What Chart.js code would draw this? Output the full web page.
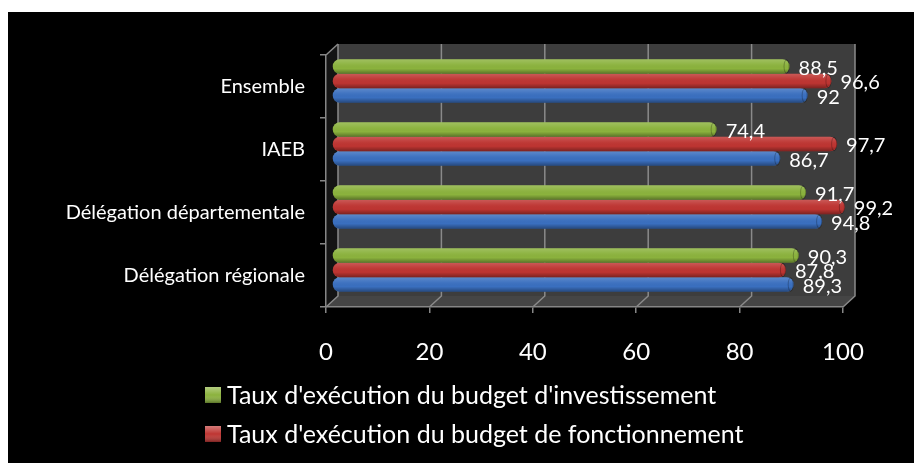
<!DOCTYPE html>
<html lang="fr">
<head>
<meta charset="utf-8">
<title>Taux d'exécution du budget</title>
<script src="https://cdn.jsdelivr.net/npm/chart.js@4"></script>
<style>
  html, body { margin: 0; padding: 0; background: #fff; }
  #wrap { position: absolute; left: 8px; top: 12px; width: 906px; height: 451px; background: #000; }
</style>
</head>
<body>
<div id="wrap"><canvas id="budgetChart" width="906" height="451"></canvas></div>
<script>
const categories = ['Ensemble', 'IAEB', 'Délégation départementale', 'Délégation régionale'];
const investissement = [88.5, 74.4, 91.7, 90.3];
const fonctionnement = [96.6, 97.7, 99.2, 87.8];
const budgetGlobal = [92, 86.7, 94.8, 89.3];
const xTicks = [0, 20, 40, 60, 80, 100];

const seriesNames = [
    "Taux d'exécution du budget d'investissement",
    "Taux d'exécution du budget de fonctionnement",
    "Taux d'exécution du budget global"
];
const seriesColors = ['#8bb23d', '#be3532', '#3a6fbf'];

// depth of the 3D box, bars sit half way in
const DX = 12, DY = -11;
const FONT = 'Lato';
const AXIS_GREY = '#868686';

function fmt(v) {
    return String(v).replace('.', ',');
}

// back wall, floor and the grid lines painted on them
const box3d = {
    id: 'box3d',
    beforeDraw(chart) {
        const ctx = chart.ctx;
        const { left, right, top, bottom } = chart.chartArea;
        const x = chart.scales.x;
        ctx.save();
        ctx.fillStyle = '#3d3d3d';
        ctx.fillRect(left + DX, top + DY, right - left, bottom - top);

        ctx.fillStyle = '#141414';
        ctx.beginPath();
        ctx.moveTo(left, top);
        ctx.lineTo(left + DX, top + DY);
        ctx.lineTo(left + DX, bottom + DY);
        ctx.lineTo(left, bottom);
        ctx.closePath();
        ctx.fill();

        ctx.fillStyle = '#454545';
        ctx.beginPath();
        ctx.moveTo(left, bottom);
        ctx.lineTo(right, bottom);
        ctx.lineTo(right + DX, bottom + DY);
        ctx.lineTo(left + DX, bottom + DY);
        ctx.closePath();
        ctx.fill();

        ctx.strokeStyle = '#8a8a8a';
        ctx.lineWidth = 1.5;
        xTicks.forEach(v => {
            const px = x.getPixelForValue(v);
            ctx.beginPath();
            ctx.moveTo(px + DX, top + DY);
            ctx.lineTo(px + DX, bottom + DY);
            ctx.lineTo(px, bottom);
            ctx.stroke();
        });
        ctx.beginPath();
        ctx.moveTo(left, top);
        ctx.lineTo(left + DX, top + DY);
        ctx.stroke();
        ctx.restore();
    }
};

// shift bars into the box and give them a cylinder look
const cylinders = {
    id: 'cylinders',
    beforeDatasetsDraw(chart) {
        chart.ctx.save();
        chart.ctx.translate(DX / 2, DY / 2);
    },
    afterDatasetsDraw(chart) {
        const ctx = chart.ctx;
        chart.data.datasets.forEach((ds, i) => {
            chart.getDatasetMeta(i).data.forEach((bar, j) => {
                const p = bar.getProps(['x', 'y', 'base', 'height'], true);
                const h = p.height, t = p.y - h / 2;
                const g = ctx.createLinearGradient(0, t, 0, t + h);
                g.addColorStop(0, 'rgba(255,255,255,0.18)');
                g.addColorStop(0.35, 'rgba(255,255,255,0.04)');
                g.addColorStop(0.65, 'rgba(0,0,0,0)');
                g.addColorStop(1, 'rgba(0,0,0,0.35)');
                ctx.fillStyle = g;
                ctx.beginPath();
                ctx.roundRect(p.base, t, p.x - p.base, h, h / 2);
                ctx.fill();
                // end cap
                ctx.strokeStyle = 'rgba(0,0,0,0.25)';
                ctx.lineWidth = 1;
                ctx.beginPath();
                ctx.ellipse(p.x - 3, p.y, 2.5, h / 2 - 0.5, 0, 0, Math.PI * 2);
                ctx.stroke();

                // value label
                ctx.fillStyle = '#fff';
                ctx.font = '20px ' + FONT;
                ctx.textAlign = 'left';
                ctx.textBaseline = 'middle';
                ctx.fillText(fmt(ds.data[j]), p.x + 9, p.y + 2);
            });
        });
        ctx.restore();
    }
};

// legend rows aligned on the left, only the first two series
const leftLegend = {
    id: 'leftLegend',
    afterDraw(chart) {
        const ctx = chart.ctx;
        const rows = [383, 422];
        ctx.save();
        ctx.font = '25px ' + FONT;
        ctx.textBaseline = 'middle';
        ctx.textAlign = 'left';
        [0, 1].forEach((i, r) => {
            const y = rows[r];
            const bx = 197, s = 16;
            const g = ctx.createLinearGradient(0, y - s / 2, 0, y + s / 2);
            g.addColorStop(0, 'rgba(255,255,255,0.35)');
            g.addColorStop(0.5, 'rgba(255,255,255,0)');
            g.addColorStop(1, 'rgba(0,0,0,0.35)');
            ctx.fillStyle = seriesColors[i];
            ctx.fillRect(bx, y - s / 2, s, s);
            ctx.fillStyle = g;
            ctx.fillRect(bx, y - s / 2, s, s);
            ctx.fillStyle = '#fff';
            ctx.fillText(chart.data.datasets[i].label, bx + 22, y + 1);
        });
        ctx.restore();
    }
};

const datasets = [investissement, fonctionnement, budgetGlobal].map((values, i) => ({
    label: seriesNames[i],
    data: values,
    backgroundColor: seriesColors[i],
    borderRadius: 7,
    borderSkipped: false,
    categoryPercentage: 0.69,
    barPercentage: 1.0,
    clip: false
}));

new Chart(document.getElementById('budgetChart'), {
    type: 'bar',
    data: { labels: categories, datasets: datasets },
    options: {
        indexAxis: 'y',
        responsive: false,
        animation: false,
        layout: { padding: { left: 0, top: 43, right: 71, bottom: 86 } },
        plugins: {
            legend: { display: false },
            tooltip: { enabled: false }
        },
        scales: {
            x: {
                min: xTicks[0],
                max: xTicks[xTicks.length - 1],
                afterFit(scale) { scale.height = 70; },
                afterBuildTicks(scale) { scale.ticks = xTicks.map(v => ({ value: v })); },
                grid: { drawOnChartArea: false, drawTicks: true, tickLength: 6, color: AXIS_GREY, lineWidth: 1.5 },
                border: { display: true, color: AXIS_GREY, width: 1.5 },
                ticks: { color: '#fff', padding: 25, font: { family: FONT, size: 24 } }
            },
            y: {
                afterFit(scale) { scale.width = 318; },
                grid: { drawOnChartArea: false, drawTicks: true, tickLength: 6, color: AXIS_GREY, lineWidth: 1.5 },
                border: { display: true, color: AXIS_GREY, width: 1.5 },
                ticks: { color: '#fff', padding: 15, font: { family: FONT, size: 20 } }
            }
        }
    },
    plugins: [box3d, cylinders, leftLegend]
});
</script>
</body>
</html>
